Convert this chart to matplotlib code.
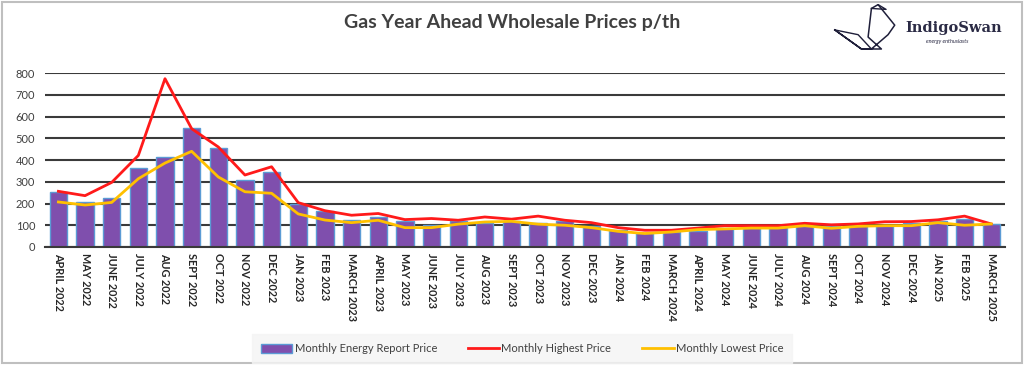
import numpy as np
import matplotlib.pyplot as plt
from matplotlib.patches import Rectangle, Patch
from matplotlib.lines import Line2D

plt.rcParams['font.family'] = ['Lato', 'DejaVu Sans']

months = ['APRIL 2022', 'MAY 2022', 'JUNE 2022', 'JULY 2022', 'AUG 2022', 'SEPT 2022',
          'OCT 2022', 'NOV 2022', 'DEC 2022', 'JAN 2023', 'FEB 2023', 'MARCH 2023',
          'APRIL 2023', 'MAY 2023', 'JUNE 2023', 'JULY 2023', 'AUG 2023', 'SEPT 2023',
          'OCT 2023', 'NOV 2023', 'DEC 2023', 'JAN 2024', 'FEB 2024', 'MARCH 2024',
          'APRIL 2024', 'MAY 2024', 'JUNE 2024', 'JULY 2024', 'AUG 2024', 'SEPT 2024',
          'OCT 2024', 'NOV 2024', 'DEC 2024', 'JAN 2025', 'FEB 2025', 'MARCH 2025']

# prix du rapport mensuel (barres)
report_price = [254, 208, 227, 365, 415, 546, 455, 310, 343, 199, 166, 122,
                140, 118, 103, 120, 111, 120, 112, 120, 98, 77, 66, 69,
                75, 87, 92, 92, 98, 95, 95, 95, 111, 119, 131, 106]
# plus haut mensuel
highest_price = [256, 236, 297, 421, 774, 544, 460, 331, 369, 204, 167, 146,
                 154, 126, 131, 123, 138, 128, 142, 123, 112, 89, 77, 77,
                 87, 98, 98, 98, 109, 102, 106, 116, 117, 125, 142, 106]
# plus bas mensuel
lowest_price = [207, 193, 205, 314, 386, 440, 322, 254, 247, 152, 124, 112,
                123, 89, 89, 105, 115, 118, 105, 100, 89, 72, 62, 69,
                80, 83, 87, 87, 98, 86, 95, 98, 98, 112, 100, 106]

yticks = [0, 100, 200, 300, 400, 500, 600, 700, 800]

x = np.arange(len(months))

fig = plt.figure(figsize=(10.24, 3.67), dpi=100)
ax = fig.add_axes([0.044, 0.327, 0.937, 0.474])

ax.bar(x, report_price, width=0.65, color='#7F4FAD', edgecolor='#5B9BD5', linewidth=1.0, zorder=2)
ax.plot(x, highest_price, color='#FF1A1A', linewidth=2, zorder=3)
ax.plot(x, lowest_price, color='#FFC000', linewidth=2, zorder=4)

ax.set_xlim(-0.5, len(months) - 0.5)
ax.set_ylim(0, 800)
ax.set_yticks(yticks)
ax.yaxis.grid(True, color='#3a3a3a', linewidth=1.5, zorder=0)
ax.set_axisbelow(True)
for s in ['top', 'right', 'left']:
    ax.spines[s].set_visible(False)
ax.spines['bottom'].set_color('#3a3a3a')
ax.spines['bottom'].set_linewidth(1.5)
ax.tick_params(axis='y', length=0, labelsize=8, labelcolor='#404040', pad=7)
ax.tick_params(axis='x', length=0, pad=4)
ax.set_xticks(x)
ax.set_xticklabels(months, rotation=270, fontsize=7.8, fontweight='bold', color='#262626',
                   va='top', ha='center')

fig.text(0.5, 0.94, 'Gas Year Ahead Wholesale Prices p/th', ha='center', va='center',
         fontsize=14, fontweight='bold', color='#404040')

# logo
fig.text(0.884, 0.925, 'IndigoSwan', ha='left', va='center', fontsize=10.5,
         fontweight='bold', color='#2b2b45', family=['DejaVu Serif'])
fig.text(0.904, 0.888, 'energy enthusiasts', ha='left', va='center', fontsize=4,
         style='italic', color='#2b2b45')
lax = fig.add_axes([0.812, 0.86, 0.065, 0.13])
lax.axis('off')
lax.plot([0.05, 0.45, 0.6, 0.85, 0.95, 0.7, 0.6, 0.55, 0.75, 0.45, 0.05],
         [0.45, 0.05, 0.05, 0.35, 0.55, 0.98, 0.9, 0.3, 0.05, 0.05, 0.45],
         color='#1f1f3a', linewidth=1.1)
lax.plot([0.05, 0.4, 0.6], [0.45, 0.35, 0.05], color='#1f1f3a', linewidth=1.0)
lax.plot([0.7, 0.82, 0.6], [0.98, 0.88, 0.9], color='#1f1f3a', linewidth=1.0)
lax.set_xlim(0, 1)
lax.set_ylim(0, 1)

# legend
handles = [Patch(facecolor='#7F4FAD', edgecolor='#5B9BD5', linewidth=1.0),
           Line2D([], [], color='#FF1A1A', linewidth=2),
           Line2D([], [], color='#FFC000', linewidth=2)]
labels = ['Monthly Energy Report Price', 'Monthly Highest Price', 'Monthly Lowest Price']
leg = fig.legend(handles, labels, loc='center', bbox_to_anchor=(0.51, 0.05), ncol=3,
                 fontsize=8, frameon=True, fancybox=False, handlelength=2.8,
                 handleheight=0.8, handletextpad=0.2, columnspacing=2.8, borderpad=0.8)
leg.get_frame().set_facecolor('#F4F4F4')
leg.get_frame().set_edgecolor('#F4F4F4')
for t in leg.get_texts():
    t.set_color('#404040')

fig.patches.append(Rectangle((0.002, 0.012), 0.996, 0.983, transform=fig.transFigure,
                             fill=False, edgecolor='#BFBFBF', linewidth=1.5))

fig.savefig('out.png', dpi=100)
